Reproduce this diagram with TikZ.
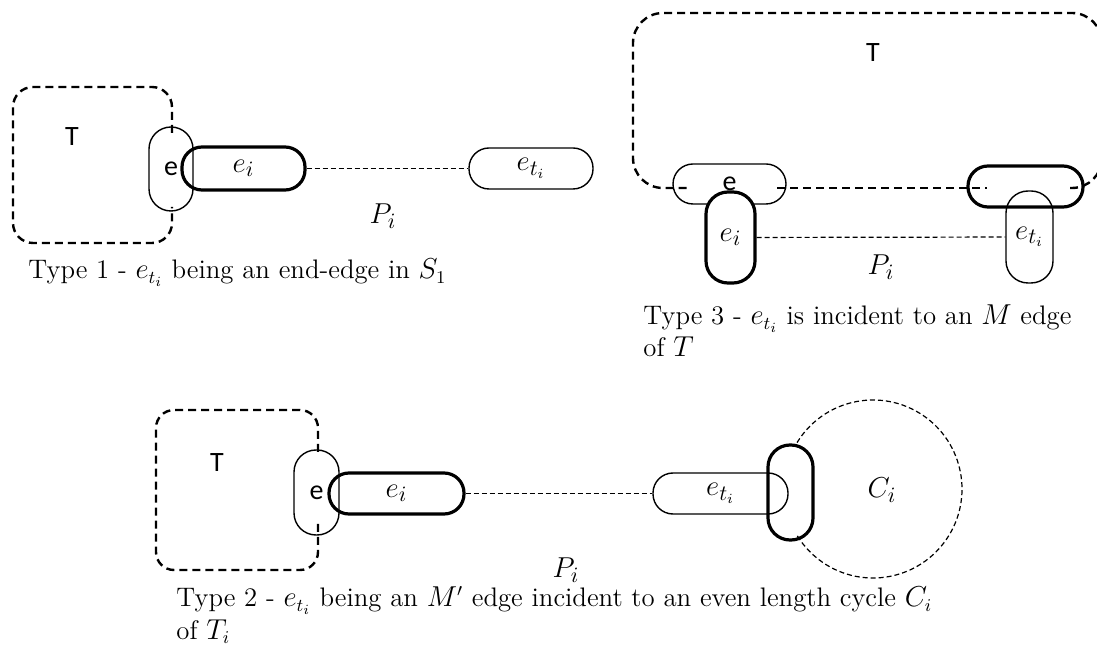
\documentclass[tikz,border=0pt]{standalone}
\usepackage{fontspec}
\newfontfamily\calibri{Carlito}

\begin{document}
\begin{tikzpicture}[
  x=0.5pt, y=-0.5pt,
  hpill/.style={draw, rectangle, rounded corners=10pt, inner sep=0pt, line width=0.7pt},
  vpill/.style={draw, rectangle, rounded corners=11pt, inner sep=0pt, line width=0.7pt},
  medge/.style={line width=1.6pt},
  treeline/.style={line width=1.2pt, dash pattern=on 4pt off 2.5pt},
  walk/.style={line width=0.6pt, dash pattern=on 2.5pt off 1.5pt},
  cyc/.style={line width=0.6pt, dash pattern=on 2.5pt off 1.5pt},
  lbl/.style={font=\calibri\fontsize{14}{16}\selectfont},
  mlbl/.style={font=\fontsize{15}{18}\selectfont},
  capt/.style={font=\fontsize{13.4}{16.1}\selectfont, inner sep=0pt, align=left},
]
\useasboundingbox (0,0) rectangle (1097,651);

% ---------------- Type 1 (top left) ----------------
\draw[treeline, rounded corners=10pt] (172,133) -- (172,87) -- (13,87) -- (13,243) -- (172,243) -- (172,207);
\node[lbl] (t1T) at (72,137) {T};
\node[vpill, lbl, minimum width=22pt, minimum height=42pt] (t1e) at (171,169) {e};
\node[hpill, medge, mlbl, minimum width=61.5pt, minimum height=21.5pt] (t1ei) at (243.5,168.5) {$e_i$};
\node[hpill, mlbl, minimum width=62pt, minimum height=20.5pt] (t1eti) at (531,168.5) {$e_{t_i}$};
\draw[walk] (t1ei) -- (t1eti);
\node[mlbl] (t1P) at (383,216) {$P_i$};
\node[capt, anchor=base west] (cap1) at (28,279) {Type 1 - $e_{t_i}$ being an end-edge in $S_1$};

% ---------------- Type 3 (top right) ----------------
\draw[treeline, rounded corners=15pt] (1070,188) -- (1102,188) -- (1102,13) -- (633,13) -- (633,188) -- (687,188);
\draw[treeline] (777,188) -- (987,188);
\node[lbl] (t3T) at (873,53) {T};
\node[hpill, lbl, minimum width=56.5pt, minimum height=20pt] (t3e) at (729.5,184) {e};
\node[vpill, medge, mlbl, fill=white, minimum width=24.5pt, minimum height=45.5pt] (t3ei) at (730.5,237.5) {$e_i$};
\node[vpill, mlbl, minimum width=23.5pt, minimum height=46pt] (t3eti) at (1029.5,237) {$e_{t_i}$};
\node[hpill, medge, minimum width=57.5pt, minimum height=20.5pt] (t3m) at (1025.5,186.5) {};
\draw[walk] (t3ei) -- (t3eti);
\node[mlbl] (t3P) at (881,267) {$P_i$};
\node[capt, anchor=base west] (cap3) at (643,357) {Type 3 - $e_{t_i}$ is incident to an $M$ edge\\of $T$};

% ---------------- Type 2 (bottom) ----------------
\draw[treeline, rounded corners=9pt] (318,452) -- (318,410) -- (156,410) -- (156,570) -- (318,570) -- (318,522);
\node[lbl] (t2T) at (217,463) {T};
\node[vpill, lbl, minimum width=22.5pt, minimum height=42.5pt] (t2e) at (316.5,492.5) {e};
\node[hpill, medge, mlbl, minimum width=67.5pt, minimum height=20.5pt] (t2ei) at (396.5,493.5) {$e_i$};
\node[hpill, mlbl, minimum width=67.5pt, minimum height=20.5pt] (t2eti) at (720.5,493.5) {$e_{t_i}$};
\node[vpill, medge, minimum width=22.5pt, minimum height=47.5pt] (t2m) at (790.5,492.5) {};
\draw[walk] (t2ei) -- (t2eti);
\coordinate (t2c) at (873,489);
\draw[cyc] ([shift={(148.6:44.5pt)}]t2c) arc[start angle=148.6, end angle=-148.6, radius=44.5pt];
\node[mlbl] (t2ci) at (882,490) {$C_i$};
\node[mlbl] (t2P) at (566,570) {$P_i$};
\node[capt, anchor=base west] (cap2) at (176,639) {Type 2 - $e_{t_i}$ being an $M'$ edge incident to an even length cycle $C_i$\\of $T_i$};
\end{tikzpicture}
\end{document}
